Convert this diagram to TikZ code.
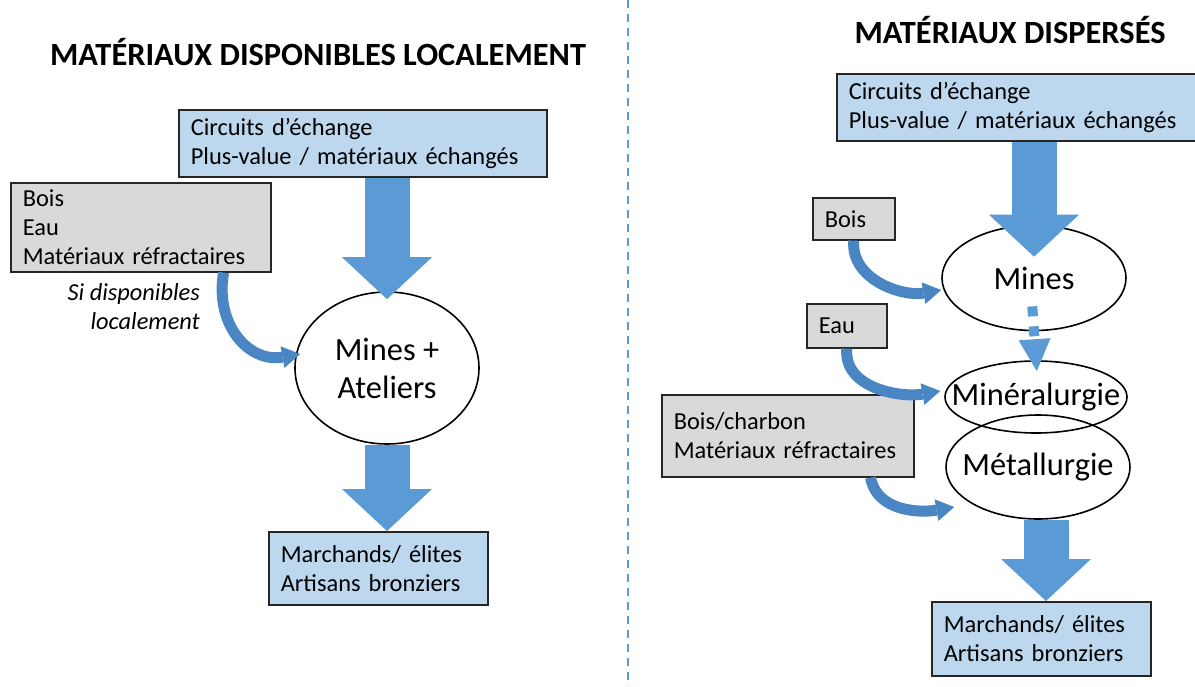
\documentclass[tikz,border=0pt]{standalone}
\usepackage{fontspec}
\setmainfont{Carlito}
\usetikzlibrary{shapes.geometric,arrows.meta}
\definecolor{boxblue}{HTML}{BDD7EE}
\definecolor{boxgray}{HTML}{D9D9D9}
\definecolor{arrowblue}{HTML}{5B9BD5}
\definecolor{curveblue}{HTML}{4A86C4}

\begin{document}
\begin{tikzpicture}[x=0.5pt, y=0.5pt,
    txtbox/.style={rectangle, draw=black!85, line width=0.8pt, anchor=north west, align=left, inner xsep=6pt, inner ysep=2pt, font=\fontsize{12.2}{14.5}\selectfont},
    bluebox/.style={txtbox, fill=boxblue},
    graybox/.style={txtbox, fill=boxgray},
    stage/.style={ellipse, draw=black, line width=0.8pt, inner xsep=-10pt, inner ysep=0pt, align=center, font=\fontsize{16.2}{19}\selectfont},
    title/.style={font=\fontsize{16.2}{19}\selectfont\bfseries},
    note/.style={font=\fontsize{12.2}{14.5}\selectfont\itshape, align=right, anchor=east},
    bigarrow/.style={arrowblue, line width=22.5pt, -{Triangle[width=45pt,length=21pt,line width=0pt]}},
    curvearrow/.style={curveblue, line width=5.5pt, -{Triangle[width=11pt,length=9pt,line width=0pt]}}
]
    \useasboundingbox (0,0) rectangle (1195,-686);
    % separation
    \draw[arrowblue, line width=1pt, dash pattern=on 4pt off 3pt] (628,0) -- (628,-686);

    % gauche
    \node[title] (titleL) at (318,-52) {MATÉRIAUX DISPONIBLES LOCALEMENT};
    \node[bluebox, text width=172pt, minimum height=33.5pt] (circL) at (178,-109) {Circuits d’échange\\Plus-value / matériaux échangés};
    \node[graybox, text width=118pt, minimum height=44.5pt] (grayL) at (10,-182) {Bois\\Eau\\Matériaux réfractaires};
    \node[note] (noteL) at (207,-307) {Si disponibles\\localement};
    \node[stage, minimum width=92pt, minimum height=76pt] (mineL) at (387,-368) {Mines +\\Ateliers};
    \node[bluebox, text width=97.5pt, minimum height=36.5pt] (marchL) at (268,-531) {Marchands/ élites\\Artisans bronziers};
    \draw[bigarrow, shorten >=-4pt] (mineL.north |- circL.south) -- (mineL.north);
    \draw[bigarrow] (mineL.south) -- (mineL.south |- marchL.north);
    \draw[curvearrow] ([xshift=-24pt]grayL.south east) to[out=-100, in=190, looseness=1.2] ([shift={(6,14)}]mineL.west);

    % droite
    \node[title] (titleR) at (1010,-30) {MATÉRIAUX DISPERSÉS};
    \node[bluebox, text width=174pt, minimum height=33.5pt] (circR) at (836,-73) {Circuits d’échange\\Plus-value / matériaux échangés};
    \node[graybox, text width=29pt, minimum height=21pt] (bois) at (812,-197) {Bois};
    \node[graybox, text width=28pt, minimum height=22pt] (eau) at (806,-303) {Eau};
    \node[graybox, text width=114pt, minimum height=41pt] (boischar) at (661,-394) {Bois/charbon\\Matériaux réfractaires};
    \node[stage, minimum width=92pt, minimum height=52.5pt] (mineR) at (1034,-278) {Mines};
    \node[stage, minimum width=91pt, minimum height=36pt] (mineral) at (1036,-397) {Minéralurgie};
    \node[stage, minimum width=92pt, minimum height=52pt] (metal) at (1038,-467) {Métallurgie};
    \node[bluebox, text width=97.5pt, minimum height=37pt] (marchR) at (931,-601) {Marchands/ élites\\Artisans bronziers};
    \draw[bigarrow, shorten >=-16pt] (mineR.north |- circR.south) -- (mineR.north);
    \draw[arrowblue, line width=5pt, dash pattern=on 5pt off 5pt, -{Triangle[width=16pt,length=16pt,line width=0pt]}, shorten <=-12.5pt, shorten >=-5.5pt] (mineR.south) -- (mineral.north);
    \draw[bigarrow] ([xshift=4pt]metal.south) -- ([xshift=4pt]metal.south |- marchR.north);
    \draw[curvearrow] (bois.south) to[out=-95, in=190] ([yshift=-6pt]mineR.west);
    \draw[curvearrow] (eau.south) to[out=-95, in=190] ([shift={(-4,6)}]mineral.west);
    \draw[curvearrow] ([xshift=-22pt]boischar.south east) to[out=-80, in=190] ([shift={(9,-40)}]metal.west);
\end{tikzpicture}
\end{document}
